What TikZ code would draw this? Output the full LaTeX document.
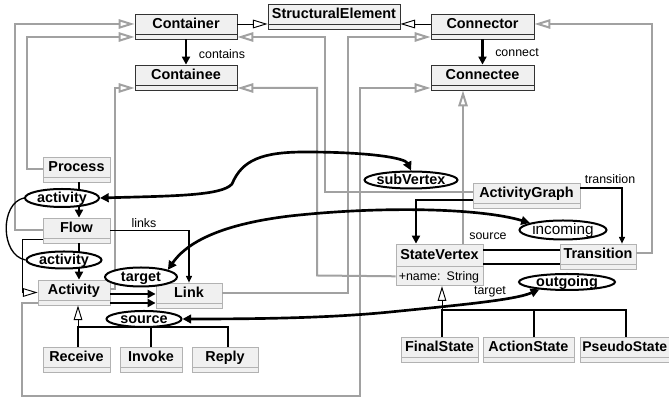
\documentclass[tikz,border=0pt]{standalone}
\usepackage{fontspec}
\setmainfont{Liberation Sans}
\usetikzlibrary{arrows.meta,shapes.geometric,positioning}

\tikzset{
  cls/.style={draw=#1, fill=black!6, line width=0.6pt, minimum height=18.75pt,
    text height=11.25pt, text depth=7.5pt, inner ysep=0pt, inner xsep=2pt,
    font=\bfseries\fontsize{10.8}{12}\selectfont,
    path picture={\draw [#1, line width=0.6pt] ([yshift=3.75pt]path picture bounding box.south west) -- ([yshift=3.75pt]path picture bounding box.south east);}},
  cls/.default=black!30,
  clshead/.style={draw=black!30, fill=black!6, line width=0.6pt, minimum height=16.5pt,
    text height=12pt, text depth=4.5pt, inner ysep=0pt, inner xsep=2pt,
    font=\bfseries\fontsize{10.8}{12}\selectfont},
  attr/.style={draw=black!30, fill=black!6, line width=0.6pt, text width=61pt, align=left,
    text height=10.45pt, text depth=3.8pt, inner ysep=0pt, inner xsep=2.1pt,
    font=\fontsize{9.3}{11}\selectfont},
  role/.style={ellipse, draw, fill=white, line width=1.5pt, inner ysep=0pt, inner xsep=-2pt,
    text height=7pt, text depth=0pt, font=\bfseries\fontsize{10.8}{12}\selectfont},
  lbl/.style={inner sep=0pt, font=\fontsize{9.3}{11}\selectfont},
  gen/.style={draw=black!37, line width=1.5pt, -{Triangle[open, length=12pt, width=7pt]}},
  isa/.style={draw=black, line width=0.7pt, -{Triangle[open, length=11pt, width=6.5pt]}},
  own/.style={line width=2pt, -{Triangle[length=6pt, width=6pt]}},
  ref/.style={line width=0.8pt, -{Triangle[length=5pt, width=4.5pt]}},
  map/.style={line width=2pt, {Triangle[length=6.5pt, width=6.5pt]}-{Triangle[length=6.5pt, width=6.5pt]}}
}

\begin{document}
\begin{tikzpicture}[x=0.75pt, y=-0.75pt]
    \useasboundingbox (0,0) rectangle (669,398);

    \node [cls=black!80, minimum width=99pt] (StructuralElement) at (334,16.5) {StructuralElement};
    \node [cls=black!80, minimum width=76.5pt] (Container) at (186,26.5) {Container};
    \node [cls=black!80, minimum width=76.5pt] (Containee) at (186,77.5) {Containee};
    \node [cls=black!80, minimum width=77.25pt] (Connector) at (482.5,26.5) {Connector};
    \node [cls=black!80, minimum width=77.25pt] (Connectee) at (482.5,77.5) {Connectee};

    \node [cls, minimum width=50.25pt] (Process) at (76.5,169.5) {Process};
    \node [cls, minimum width=50.25pt] (Flow) at (76.5,230.5) {Flow};
    \node [cls, minimum width=54pt] (Activity) at (74,292.5) {Activity};
    \node [cls, minimum width=49.5pt] (Link) at (189,295.5) {Link};
    \node [cls, minimum width=50.25pt] (Receive) at (76.5,359.5) {Receive};
    \node [cls, minimum width=46.5pt] (Invoke) at (151,359.5) {Invoke};
    \node [cls, minimum width=49.5pt] (Reply) at (225,359.5) {Reply};

    \node [cls, minimum width=80.25pt] (ActivityGraph) at (526.5,195.5) {ActivityGraph};
    \node [clshead, minimum width=65.25pt] (StateVertex) at (439.5,255) {StateVertex};
    \node [attr, below=0pt of StateVertex] (svattr) {+name: String};
    \node [cls, minimum width=57pt] (Transition) at (598,256.5) {Transition};
    \node [cls, minimum width=57.75pt] (FinalState) at (439.5,349.5) {FinalState};
    \node [cls, minimum width=68.25pt] (ActionState) at (528.5,349.5) {ActionState};
    \node [cls, anchor=west, minimum width=75pt, inner xsep=1.5pt, text width=72pt, align=left,
      font=\bfseries\fontsize{10.5}{12}\selectfont] (PseudoState) at (580,349.5) {PseudoState};

    \draw [isa] (Container.east |- 0,24) -- (StructuralElement.west |- 0,24);
    \draw [isa] (Connector.west |- 0,24) -- (StructuralElement.east |- 0,24);
    \draw [own] (Container.south) -- (Containee.north);
    \node [lbl] (containsLbl) at (222,54) {contains};
    \draw [own] (Connector.south) -- (Connectee.north);
    \node [lbl] (connectLbl) at (517,53) {connect};

    \draw [gen] (Flow.west) -- (15,230.5) -- (15,24) -- (Container.west |- 0,24);
    \draw [gen] (Process.west) -- (27,169.5) -- (27,37) -- (Container.west |- 0,37);
    \draw [gen] (ActivityGraph.west |- 0,192) -- (325,192) -- (325,37) -- (Container.east |- 0,37);
    \draw [gen] (Activity.east |- 0,289) -- (115,289) -- (115,88) -- (Containee.west |- 0,88);
    \draw [gen] (svattr.west) -- (317,275.5) -- (317,88) -- (Containee.east |- 0,88);
    \draw [gen] (Link.east |- 0,293) -- (348,293) -- (348,37) -- (Connector.west |- 0,37);
    \draw [gen] (Activity.west |- 0,303) -- (22,303) -- (22,396) -- (360,396) -- (360,88) -- (Connectee.west |- 0,88);
    \draw [gen] (StateVertex.north -| 463,0) -- (Connectee.south -| 463,0);
    \draw [gen] (Transition.east |- 0,253) -- (652,253) -- (652,24) -- (Connector.east |- 0,24);

    \draw [own] (Process.south -| 79,0) -- (Flow.north -| 79,0);
    \draw [own] (Flow.south -| 79,0) -- (Activity.north -| 79,0);
    \draw [isa] (Flow.west |- 0,239) -- (22,239) -- (22,292.5) -- (Activity.west);
    \draw [ref] (Flow.east) -| (Link.north);
    \node [lbl] (linksLbl) at (144,223) {links};
    \draw [own] (Activity.east |- 0,294) -- (Link.west |- 0,294);
    \draw [own] (Activity.east |- 0,303) -- (Link.west |- 0,303);

    \coordinate (actjoin) at (78,327);
    \draw [isa] (actjoin) -- (Activity.south -| actjoin);
    \draw [line width=0.8pt] (Receive.north -| actjoin) -- (actjoin) -- (228,327) -- (Reply.north -| 228,0);
    \draw [line width=0.8pt] (Invoke.north) -- (Invoke.north |- actjoin);

    \draw [own] (ActivityGraph.west |- 0,200) -| (StateVertex.north -| 416,0);
    \draw [ref] (ActivityGraph.east |- 0,188) -| (Transition.north -| 622,0);
    \node [lbl] (transitionLbl) at (610,179) {transition};
    \draw [line width=2pt] (StateVertex.east |- 0,250) -- (Transition.west |- 0,250);
    \draw [line width=2pt] (StateVertex.east |- 0,264) -- (Transition.west |- 0,264);
    \node [lbl] (sourceLbl) at (488,236) {source};
    \node [lbl] (targetLbl) at (490,292) {target};

    \coordinate (svjoin) at (442,310);
    \draw [isa] (svjoin) -- (svattr.south -| svjoin);
    \draw [line width=0.8pt] (FinalState.north -| svjoin) -- (svjoin) -- (626,310) -- (PseudoState.north -| 626,0);
    \draw [line width=0.8pt] (ActionState.north -| 534,0) -- (534,310);

    \node [role, minimum width=55.5pt, minimum height=13.5pt] (flowAct) at (62,198) {activity};
    \node [role, minimum width=56.25pt, minimum height=12.75pt] (linkAct) at (64,260) {activity};
    \node [role, minimum width=54pt, minimum height=14.25pt] (target) at (141,277) {target};
    \node [role, minimum width=56.25pt, minimum height=12pt] (source) at (144,319) {source};
    \node [role, minimum width=69.75pt, minimum height=12.75pt] (subVertex) at (411,180) {subVertex};
    \node [role, font=\fontsize{11.5}{13}\selectfont, minimum width=65.25pt, minimum height=14.25pt] (incoming) at (563,230) {incoming};
    \node [role, minimum width=72pt, minimum height=12pt] (outgoing) at (567,282) {outgoing};

    \draw [line width=1pt] (flowAct.west) .. controls (0,203) and (0,255) .. (linkAct.west);
    \draw [map] (flowAct.east) .. controls (170,196) and (222,196) .. (232,184) .. controls (242,160) and (262,152) .. (305,152) .. controls (370,152) and (405,158) .. (subVertex.north);
    \draw [map] (target.15) .. controls (185,245) and (215,225) .. (290,216) .. controls (380,206) and (480,208) .. (incoming.168);
    \draw [map] (source.east) .. controls (260,319) and (330,318) .. (390,312) .. controls (460,305) and (515,300) .. (outgoing.195);
\end{tikzpicture}
\end{document}
